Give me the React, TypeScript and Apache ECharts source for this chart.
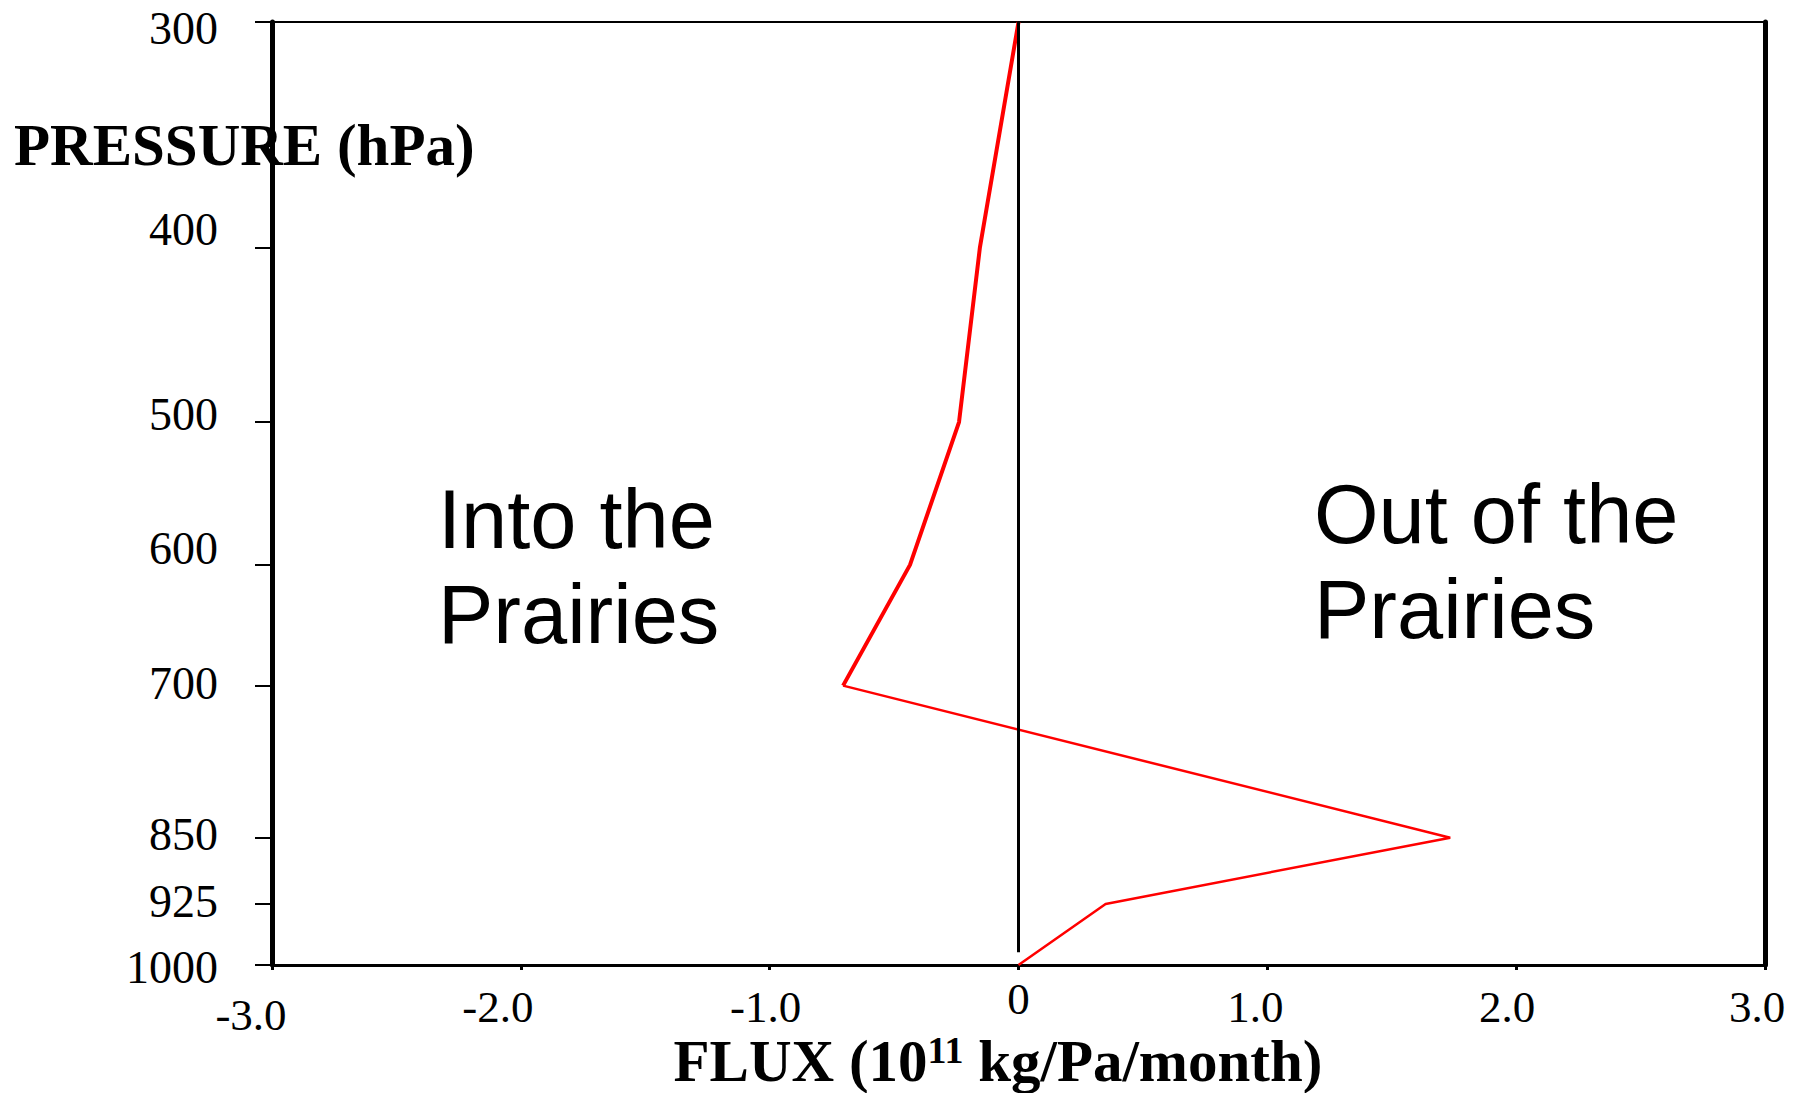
import React, { useEffect, useRef } from "react";
import * as echarts from "echarts";

// ---- data ----
const pressureLevels = [300, 400, 500, 600, 700, 850, 925, 1000];
const fluxValues = [0, -0.155, -0.239, -0.436, -0.705, 1.735, 0.35, 0];
const xTickLabels = ["-3.0", "-2.0", "-1.0", "0", "1.0", "2.0", "3.0"];
const yTickLabels = ["300", "400", "500", "600", "700", "850", "925", "1000"];
const zeroLineTopP = 300;
const zeroLineBottomP = 984;

// ---- label nudges (style) ----
const xLabelPad = [
  [38, 42],
  [22, 46],
  [22, 8],
  [5, 0],
  [22, 24],
  [22, 18],
  [22, 16],
];
const yLabelPad = [
  [12, 0],
  [0, 36],
  [0, 16],
  [0, 32],
  [0, 4],
  [0, 6],
  [0, 4],
  [4, 0],
];

const SERIF = "Liberation Serif";
const SANS = "Liberation Sans";

export default function App() {
  const ref = useRef<HTMLDivElement>(null);

  useEffect(() => {
    if (!ref.current) return;
    const chart = echarts.init(ref.current, undefined, { renderer: "svg" });

    const logP = pressureLevels.map((p) => Math.log10(p));
    const points = fluxValues.map((f, i) => [f, logP[i]]);
    const upper = points.slice(0, 5);
    const lower = points.slice(4);

    const xRich: Record<string, any> = {};
    xLabelPad.forEach((pd, i) => {
      xRich["x" + i] = {
        fontFamily: SERIF,
        fontSize: 45,
        lineHeight: 46,
        color: "#000",
        padding: [pd[0], pd[1], 0, 0],
      };
    });
    const yRich: Record<string, any> = {};
    yLabelPad.forEach((pd, i) => {
      yRich["y" + i] = {
        fontFamily: SERIF,
        fontSize: 46,
        lineHeight: 46,
        color: "#000",
        padding: [pd[0], 0, pd[1], 0],
      };
    });

    const nearestIdx = (v: number) => {
      let best = 0;
      let bd = Infinity;
      logP.forEach((lp, i) => {
        const d = Math.abs(lp - v);
        if (d < bd) {
          bd = d;
          best = i;
        }
      });
      return best;
    };

    const yMin = Math.log10(300);
    const yMax = Math.log10(1000);

    chart.setOption({
      animation: false,
      backgroundColor: "#fff",
      grid: {
        left: 272,
        right: 37,
        top: 22,
        bottom: 128,
        containLabel: false,
        outerBoundsMode: "none",
      },
      xAxis: [
        {
          type: "value",
          position: "bottom",
          min: -3,
          max: 3,
          interval: 1,
          axisLine: { show: true, onZero: false, lineStyle: { color: "#000", width: 3 } },
          axisTick: { show: true, inside: false, length: 5, lineStyle: { color: "#000", width: 3 } },
          splitLine: { show: false },
          axisLabel: {
            show: true,
            margin: 8,
            showMinLabel: true,
            showMaxLabel: true,
            formatter: (v: number) => {
              const i = Math.round(v + 3);
              return "{x" + i + "|" + xTickLabels[i] + "}";
            },
            rich: xRich,
          },
        },
        {
          type: "value",
          position: "top",
          min: -3,
          max: 3,
          interval: 1,
          axisLine: { show: true, onZero: false, lineStyle: { color: "#000", width: 2 } },
          axisTick: { show: false },
          axisLabel: { show: false },
          splitLine: { show: false },
        },
      ],
      yAxis: [
        {
          type: "value",
          position: "left",
          inverse: true,
          min: yMin,
          max: yMax,
          axisLine: { show: true, onZero: false, lineStyle: { color: "#000", width: 5 } },
          axisTick: {
            show: true,
            inside: false,
            length: 17,
            customValues: logP,
            lineStyle: { color: "#000", width: 2 },
          },
          splitLine: { show: false },
          axisLabel: {
            show: true,
            margin: 54,
            customValues: logP,
            formatter: (v: number) => {
              const i = nearestIdx(v);
              return "{y" + i + "|" + yTickLabels[i] + "}";
            },
            rich: yRich,
          },
        },
        {
          type: "value",
          position: "right",
          inverse: true,
          min: yMin,
          max: yMax,
          axisLine: { show: true, onZero: false, lineStyle: { color: "#000", width: 5 } },
          axisTick: { show: false },
          axisLabel: { show: false },
          splitLine: { show: false },
        },
      ],
      series: [
        {
          type: "line",
          data: [],
          z: 1,
          silent: true,
          markLine: {
            silent: true,
            symbol: ["none", "none"],
            label: { show: false },
            lineStyle: { color: "#000", width: 3, type: "solid" },
            data: [
              [
                { coord: [0, Math.log10(zeroLineTopP)] },
                { coord: [0, Math.log10(zeroLineBottomP)] },
              ],
            ],
          },
        },
        {
          type: "line",
          data: upper,
          z: 3,
          symbol: "none",
          lineStyle: { color: "#ff0000", width: 4 },
          silent: true,
        },
        {
          type: "line",
          data: lower,
          z: 3,
          symbol: "none",
          lineStyle: { color: "#ff0000", width: 2.5 },
          silent: true,
        },
      ],
      graphic: [
        {
          type: "text",
          x: 14,
          y: 145,
          z: 10,
          style: {
            text: "PRESSURE (hPa)",
            font: "bold 59px " + SERIF,
            fill: "#000",
            verticalAlign: "middle",
          },
        },
        {
          type: "text",
          x: 438,
          y: 472,
          z: 10,
          style: {
            text: "Into the\nPrairies",
            font: "83px " + SANS,
            lineHeight: 95,
            fill: "#000",
            verticalAlign: "top",
          },
        },
        {
          type: "text",
          x: 1314,
          y: 467,
          z: 10,
          style: {
            text: "Out of the\nPrairies",
            font: "83px " + SANS,
            lineHeight: 95,
            fill: "#000",
            verticalAlign: "top",
          },
        },
        {
          type: "text",
          x: 998,
          y: 1061,
          z: 10,
          style: {
            text: "{b|FLUX (10}{s|11}{b| kg/Pa/month)}",
            align: "center",
            verticalAlign: "middle",
            rich: {
              b: { fontFamily: SERIF, fontWeight: "bold", fontSize: 59, lineHeight: 60, fill: "#000" },
              s: {
                fontFamily: SERIF,
                fontWeight: "bold",
                fontSize: 38,
                lineHeight: 42,
                verticalAlign: "top",
                fill: "#000",
              },
            },
          },
        },
      ],
    });

    return () => chart.dispose();
  }, []);

  return (
    <div
      ref={ref}
      style={{ position: "absolute", left: 0, top: 0, width: 1802, height: 1093, background: "#fff" }}
    />
  );
}
